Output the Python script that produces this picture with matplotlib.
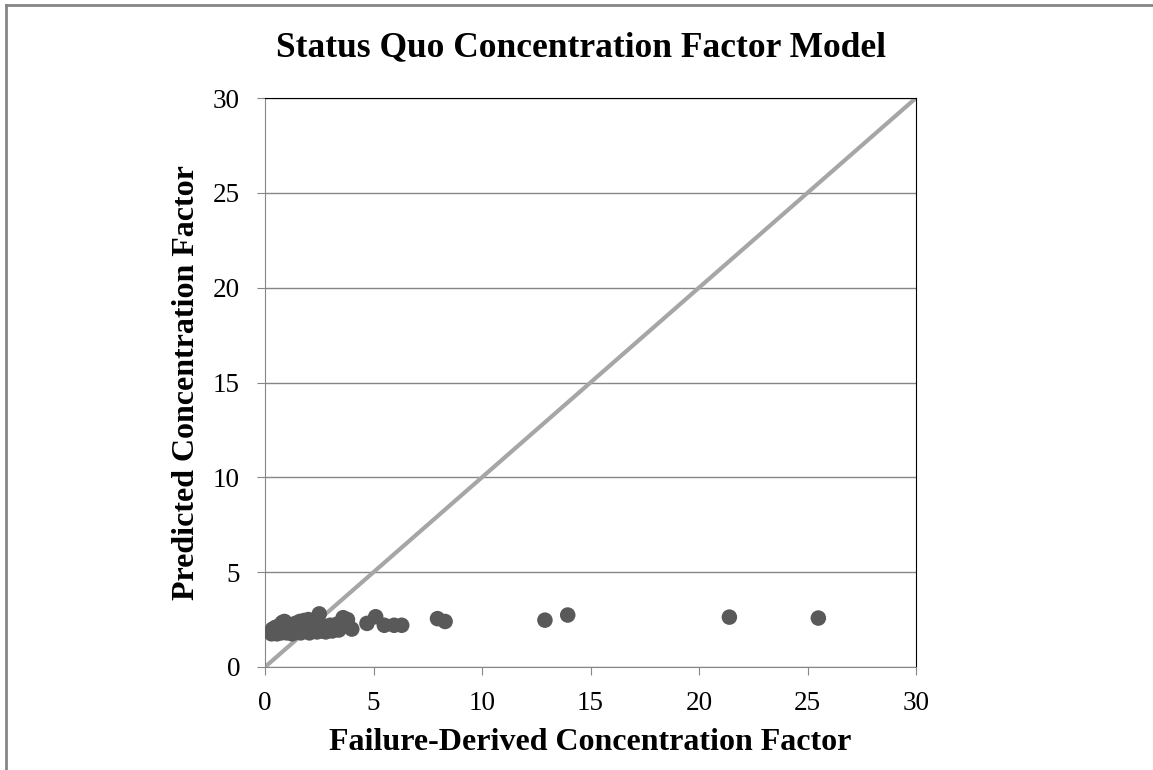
import matplotlib.pyplot as plt
from matplotlib.lines import Line2D

# failure-derived (x) vs predicted (y) concentration factor
failure_cf = [0.3, 0.35, 0.4, 0.5, 0.55, 0.6, 0.7, 0.75, 0.8, 0.85, 0.9, 1.0,
              1.05, 1.1, 1.2, 1.25, 1.3, 1.4, 1.45, 1.5, 1.6, 1.65, 1.7, 1.8,
              1.85, 1.9, 2.0, 2.05, 2.1, 2.2, 2.3, 2.4, 2.5, 2.55, 2.6, 2.7,
              2.8, 2.9, 3.0, 3.1, 3.2, 3.3, 3.4, 3.5, 3.6, 3.8, 4.0,
              4.7, 5.1, 5.5, 5.95, 6.3, 7.95, 8.3, 12.9, 13.95, 21.4, 25.5]
predicted_cf = [1.75, 2.0, 1.85, 2.1, 1.75, 1.9, 2.2, 1.8, 2.35, 2.0, 2.4, 1.8,
                2.1, 1.9, 2.2, 1.75, 2.0, 2.3, 1.85, 2.1, 2.4, 1.8, 2.0, 2.45,
                1.9, 2.2, 2.5, 1.8, 2.1, 1.95, 2.3, 1.85, 2.8, 2.0, 1.9, 2.15,
                1.85, 1.95, 2.2, 1.9, 2.0, 2.25, 1.95, 2.1, 2.6, 2.5, 2.0,
                2.3, 2.65, 2.2, 2.2, 2.2, 2.55, 2.4, 2.47, 2.74, 2.63, 2.58]
ref_line = [0, 30]

serif = 'Liberation Serif'

fig = plt.figure(figsize=(11.53, 7.70), dpi=100)
ax = fig.add_axes([265 / 1153, 1 - 667 / 770, 651 / 1153, 569 / 770])

ax.plot(ref_line, ref_line, color='#a6a6a6', lw=3, zorder=2)
ax.scatter(failure_cf, predicted_cf, s=125, color='#595959', edgecolors='none', zorder=3)

ax.set_xlim(0, 30)
ax.set_ylim(0, 30)
ax.set_xticks(range(0, 31, 5))
ax.set_yticks(range(0, 31, 5))
ax.yaxis.grid(True, color='#868686', lw=1)
ax.set_axisbelow(True)
for side in ['left', 'bottom']:
    ax.spines[side].set_color('#868686')
for side in ['top', 'right']:
    ax.spines[side].set_color('black')
ax.tick_params(direction='out', length=6, color='#868686', labelsize=19.5)
ax.tick_params(axis='y', pad=12)
ax.tick_params(axis='x', pad=11)
for lbl in ax.get_xticklabels() + ax.get_yticklabels():
    lbl.set_family(serif)

fig.text(581 / 1153, 1 - 48 / 770, 'Status Quo Concentration Factor Model', family=serif,
         fontsize=25.5, fontweight='bold', ha='center', va='center')
ax.set_xlabel('Failure-Derived Concentration Factor', family=serif,
              fontsize=23, fontweight='bold', va='center')
ax.xaxis.set_label_coords(0.5, -0.133)
ax.set_ylabel('Predicted Concentration Factor', family=serif,
              fontsize=23, fontweight='bold', va='center')
ax.yaxis.set_label_coords(-0.121, 0.5)

# outer frame (left and top only visible)
fig.add_artist(Line2D([6 / 1153, 6 / 1153], [0, 1 - 5 / 770], color='#868686', lw=2))
fig.add_artist(Line2D([6 / 1153, 1], [1 - 5 / 770, 1 - 5 / 770], color='#868686', lw=2))

fig.savefig('out.png', dpi=100)
